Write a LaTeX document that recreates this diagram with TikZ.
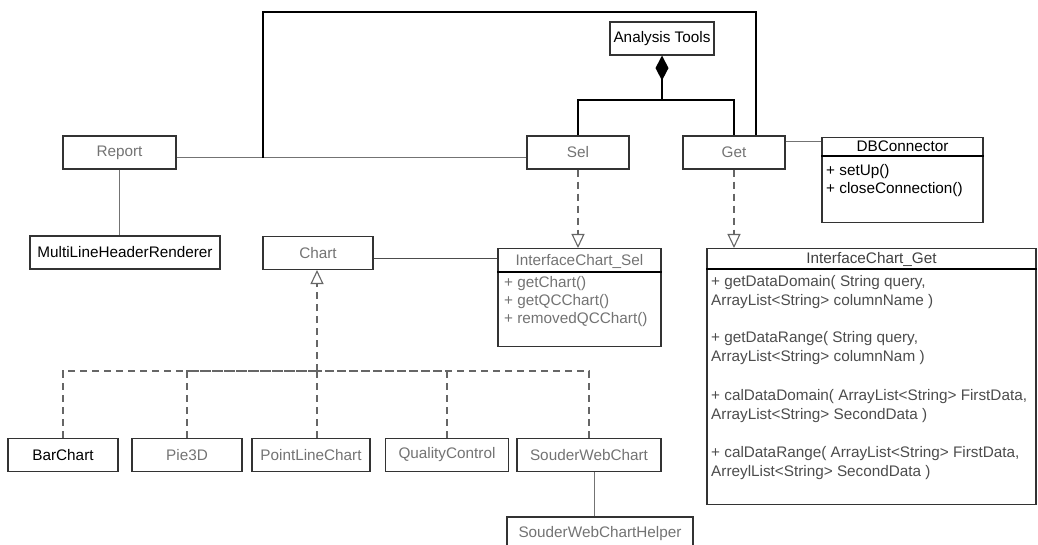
\documentclass[tikz,border=0pt]{standalone}
\usepackage{fontspec}
\setmainfont{Liberation Sans}
\usetikzlibrary{arrows.meta}

\tikzset{
  cls/.style={draw=black!80, line width=1.1pt, minimum height=33pt, inner sep=0pt, text=black!55},
  member/.style={anchor=west, inner sep=0pt, text=black!55},
  link/.style={draw=black!55, line width=1pt},
  heavy link/.style={draw=black, line width=1.8pt},
  dash line/.style={draw=black!60, line width=1.1pt, dash pattern=on 7pt off 5pt},
  realize/.style={dash line, -{Triangle[open, length=14pt, width=13pt, fill=white]}},
}

\begin{document}
\begin{tikzpicture}[x=1pt, y=-1pt, font=\fontsize{15.3}{18}\selectfont]
  \useasboundingbox (0,0) rectangle (1038,545);

  % top classes
  \node[cls, minimum width=104pt, text=black] (tools) at (662,38.5) {Analysis Tools};
  \node[cls, minimum width=113pt] (report) at (119.5,152.5) {Report};
  \node[cls, minimum width=102pt] (sel) at (578,152.5) {Sel};
  \node[cls, minimum width=102pt] (get) at (734,152.5) {Get};

  % DBConnector
  \node[cls, minimum width=161pt, minimum height=85pt, anchor=north] (db) at (902.5,137) {};
  \node[text=black, inner sep=0pt] (dbname) at (902.5,146.5) {DBConnector};
  \draw[line width=1.1pt] ([yshift=-19pt]db.north west) -- ([yshift=-19pt]db.north east);
  \node[member, text=black] (dbm1) at (826,172) {+ setUp()};
  \node[member, text=black] (dbm2) at (826,190) {+ closeConnection()};

  % second row
  \node[cls, minimum width=190pt, text=black] (mlhr) at (125,252.5) {MultiLineHeaderRenderer};
  \node[cls, minimum width=110pt] (chart) at (318,253) {Chart};

  % InterfaceChart_Sel
  \node[cls, minimum width=163pt, minimum height=98pt, anchor=north] (ics) at (579.5,248) {};
  \node[text=black!55, inner sep=0pt] (icsname) at (579.5,261) {InterfaceChart\_Sel};
  \draw[line width=1.1pt] ([yshift=-24pt]ics.north west) -- ([yshift=-24pt]ics.north east);
  \node[member] (icsm1) at (504,284) {+ getChart()};
  \node[member] (icsm2) at (504,302) {+ getQCChart()};
  \node[member] (icsm3) at (504,320) {+ removedQCChart()};

  % InterfaceChart_Get
  \node[cls, minimum width=329pt, minimum height=256pt, anchor=north] (icg) at (871.5,248) {};
  \node[text=black!75, inner sep=0pt] (icgname) at (871.5,259) {InterfaceChart\_Get};
  \draw[line width=1.1pt] ([yshift=-21pt]icg.north west) -- ([yshift=-21pt]icg.north east);
  \node[member, text=black!70] (icgm1) at (711,283) {+ getDataDomain( String query,};
  \node[member, text=black!70] (icgm1b) at (711,302) {ArrayList<String> columnName )};
  \node[member, text=black!70] (icgm2) at (711,339) {+ getDataRange( String query,};
  \node[member, text=black!70] (icgm2b) at (711,358) {ArrayList<String> columnNam )};
  \node[member, text=black!70] (icgm3) at (711,397) {+ calDataDomain( ArrayList<String> FirstData,};
  \node[member, text=black!70] (icgm3b) at (711,416) {ArrayList<String> SecondData )};
  \node[member, text=black!70] (icgm4) at (711,454) {+ calDataRange( ArrayList<String> FirstData,};
  \node[member, text=black!70] (icgm4b) at (711,473) {ArreylList<String> SecondData )};

  % chart types
  \node[cls, minimum width=110pt, text=black] (bar) at (63,455) {BarChart};
  \node[cls, minimum width=110pt] (pie) at (187,455) {Pie3D};
  \node[cls, minimum width=118pt] (plc) at (311,455) {PointLineChart};
  \node[cls, minimum width=123pt] (qc) at (447,455) {QualityControl};
  \node[cls, minimum width=144pt] (swc) at (589,455) {SouderWebChart};
  \node[cls, minimum width=186pt, minimum height=34pt] (swch) at (600,534) {SouderWebChartHelper};

  % associations
  \coordinate (rj) at (263,158);
  \coordinate (tl) at (263,12);
  \coordinate (tr) at (756,12);
  \draw[link] (report.east |- rj) -- (sel.west |- rj);
  \draw[heavy link] (rj) -- (tl) -- (tr) -- (tr |- get.north);
  \draw[link] (get.east |- 0,142) -- (db.west |- 0,142);
  \draw[link] (report.south) -- (report.south |- mlhr.north);
  \draw[draw=black!70, line width=1pt] (chart.east |- 0,259) -- (ics.west |- 0,259);
  \draw[link] ([xshift=5pt]swc.south) -- ([xshift=5pt]swc.south |- swch.north);

  % composition
  \coordinate (cj) at (662,100);
  \draw[heavy link] (sel.north) |- (cj) -| (get.north);
  \draw[heavy link, {Diamond[length=25pt, width=13pt]}-] (tools.south) -- (cj);

  % realization
  \draw[realize] (sel.south) -- (sel.south |- ics.north);
  \draw[realize] (get.south) -- (get.south |- icg.north);

  % generalization
  \coordinate (gj) at (317,371);
  \draw[realize] (gj) -- (chart.south -| gj);
  \foreach \c in {bar,pie,qc,swc}
    \draw[dash line] (\c.north) |- (gj);
  \draw[dash line] (plc.north -| gj) -- (gj);
\end{tikzpicture}
\end{document}
